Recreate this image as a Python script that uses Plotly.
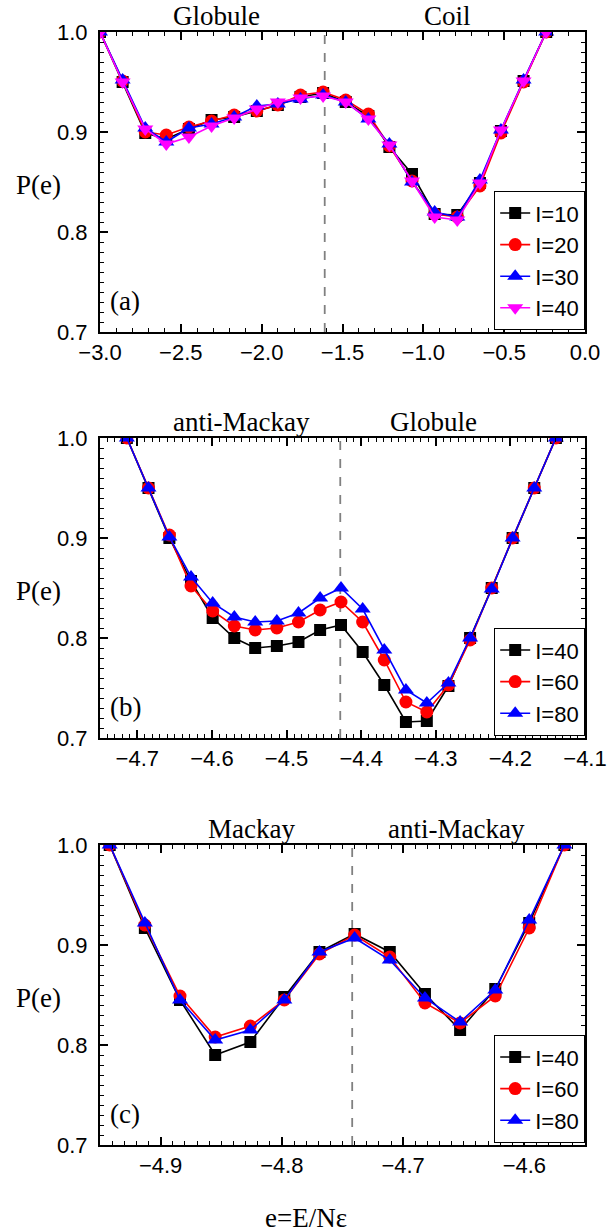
import plotly.graph_objects as go

# ---------------- data ----------------
x_a = [-3.00, -2.86, -2.72, -2.59, -2.45, -2.31, -2.17, -2.03, -1.90, -1.76, -1.62,
       -1.48, -1.34, -1.21, -1.07, -0.93, -0.79, -0.65, -0.52, -0.38, -0.24]
a_I10 = [1.000, 0.950, 0.899, 0.893, 0.903, 0.912, 0.915, 0.921, 0.927, 0.935, 0.939,
         0.930, 0.916, 0.885, 0.858, 0.818, 0.817, 0.849, 0.901, 0.951, 1.000]
a_I20 = [1.000, 0.951, 0.900, 0.897, 0.905, 0.911, 0.917, 0.921, 0.927, 0.937, 0.940,
         0.932, 0.918, 0.886, 0.851, 0.818, 0.815, 0.846, 0.899, 0.950, 1.000]
a_I30 = [1.000, 0.952, 0.904, 0.890, 0.904, 0.908, 0.915, 0.926, 0.928, 0.933, 0.937,
         0.930, 0.913, 0.888, 0.850, 0.820, 0.815, 0.852, 0.902, 0.952, 1.000]
a_I40 = [1.000, 0.950, 0.903, 0.888, 0.895, 0.906, 0.914, 0.923, 0.930, 0.934, 0.936,
         0.930, 0.913, 0.887, 0.851, 0.815, 0.812, 0.849, 0.902, 0.951, 1.000]

x_b = [-4.714, -4.685, -4.657, -4.628, -4.599, -4.570, -4.542, -4.513, -4.484, -4.455, -4.427,
       -4.398, -4.369, -4.340, -4.312, -4.283, -4.254, -4.225, -4.197, -4.168, -4.139]
b_I40 = [1.000, 0.950, 0.900, 0.857, 0.820, 0.800, 0.790, 0.792, 0.796, 0.808, 0.813,
         0.786, 0.753, 0.716, 0.717, 0.752, 0.800, 0.850, 0.900, 0.950, 1.000]
b_I60 = [1.000, 0.950, 0.903, 0.852, 0.827, 0.812, 0.808, 0.810, 0.816, 0.828, 0.836,
         0.816, 0.778, 0.736, 0.726, 0.753, 0.798, 0.850, 0.900, 0.950, 1.000]
b_I80 = [1.000, 0.950, 0.901, 0.861, 0.835, 0.821, 0.816, 0.817, 0.825, 0.840, 0.850,
         0.829, 0.788, 0.748, 0.735, 0.755, 0.800, 0.849, 0.900, 0.950, 1.000]

x_c = [-4.942, -4.913, -4.884, -4.855, -4.826, -4.798, -4.769, -4.740, -4.711, -4.682,
       -4.653, -4.624, -4.596, -4.567]
c_I40 = [1.000, 0.917, 0.845, 0.790, 0.803, 0.848, 0.893, 0.911, 0.893, 0.851, 0.815, 0.856, 0.922, 1.000]
c_I60 = [1.000, 0.920, 0.849, 0.808, 0.819, 0.845, 0.891, 0.910, 0.888, 0.842, 0.822, 0.849, 0.917, 1.000]
c_I80 = [1.000, 0.922, 0.845, 0.805, 0.815, 0.845, 0.893, 0.907, 0.885, 0.847, 0.823, 0.855, 0.925, 1.000]

labels_a = ["I=10", "I=20", "I=30", "I=40"]
labels_bc = ["I=40", "I=60", "I=80"]
phase_a = ["Globule", "Coil"]
phase_b = ["anti-Mackay", "Globule"]
phase_c = ["Mackay", "anti-Mackay"]
trans = [-1.61, -4.428, -4.742]

# ---------------- style ----------------
W, H = 608, 1232
SANS = "Liberation Sans, Arial, sans-serif"
SERIF = "Liberation Serif, Times New Roman, serif"
colors = ["#000000", "#ff0000", "#0000ff", "#ff00ff"]
symbols = ["square", "circle", "triangle-up", "triangle-down"]
sizes = [12, 13, 14, 14]

def px_x(p):
    return p / W

def px_y(p):
    return 1 - p / H

xdom = [px_x(100), px_x(585)]
panels = [
    dict(top=32, bot=332, xr=[-3.0, 0.0], dt=0.5, mdt=0.1, x=x_a,
         ys=[a_I10, a_I20, a_I30, a_I40], labels=labels_a, phases=phase_a, tag="(a)"),
    dict(top=438, bot=738, xr=[-4.75, -4.1], dt=0.1, mdt=0.01, x=x_b,
         ys=[b_I40, b_I60, b_I80], labels=labels_bc, phases=phase_b, tag="(b)"),
    dict(top=845, bot=1145, xr=[-4.95, -4.55], dt=0.1, mdt=0.01, x=x_c,
         ys=[c_I40, c_I60, c_I80], labels=labels_bc, phases=phase_c, tag="(c)"),
]
phase_x = [[216, 447], [241, 433], [251, 456]]

fig = go.Figure()
layout = dict(width=W, height=H, margin=dict(l=0, r=0, t=0, b=0, autoexpand=False),
              paper_bgcolor="white", plot_bgcolor="white", showlegend=True)
annotations = []
shapes = []

for i, p in enumerate(panels):
    n = "" if i == 0 else str(i + 1)
    xa, ya = "x" + n, "y" + n
    leg = "legend" + n
    for k, (yv, lab) in enumerate(zip(p["ys"], p["labels"])):
        fig.add_trace(go.Scatter(
            x=p["x"], y=yv, name=lab, mode="lines+markers", xaxis=xa, yaxis=ya,
            legend=leg,
            line=dict(color=colors[k], width=1.6),
            marker=dict(symbol=symbols[k], size=sizes[k], color=colors[k],
                        line=dict(width=0))))
    ydom = [px_y(p["bot"]), px_y(p["top"])]
    axis_common = dict(showline=True, linecolor="black", linewidth=2, mirror="ticks",
                       ticks="inside", ticklen=8, tickwidth=1.5, tickcolor="black",
                       showgrid=False, zeroline=False, automargin=False,
                       tickfont=dict(family=SANS, size=22, color="black"))
    layout["xaxis" + n] = dict(axis_common, domain=xdom, range=p["xr"], anchor=ya,
                               tick0=0, dtick=p["dt"], tickformat=".1f",
                               minor=dict(ticks="inside", ticklen=4, tickwidth=1.2,
                                          tickcolor="black", dtick=p["mdt"]))
    layout["yaxis" + n] = dict(axis_common, domain=ydom, range=[0.7, 1.0], anchor=xa,
                               tick0=0.7, dtick=0.1, tickformat=".1f", ticklabelstandoff=6,
                               minor=dict(ticks="inside", ticklen=4, tickwidth=1.2,
                                          tickcolor="black", dtick=0.01))
    layout[leg] = dict(x=px_x(585), xanchor="right", y=px_y(p["bot"] - 2), yanchor="bottom",
                       bgcolor="white", bordercolor="black", borderwidth=1.2,
                       font=dict(family=SANS, size=22, color="black"),
                       tracegroupgap=0)
    shapes.append(dict(type="line", xref=xa, yref=ya + " domain", x0=trans[i], x1=trans[i],
                       y0=0, y1=1, line=dict(color="#808080", width=1.8, dash="dash"),
                       layer="below"))
    for ph, cx in zip(p["phases"], phase_x[i]):
        annotations.append(dict(text=ph, xref="paper", yref="paper", x=px_x(cx),
                                y=px_y(p["top"] - 16), xanchor="center", yanchor="middle",
                                showarrow=False, font=dict(family=SERIF, size=27, color="black")))
    annotations.append(dict(text=p["tag"], xref="paper", yref="paper", x=px_x(108),
                            y=px_y(p["bot"] - 31), xanchor="left", yanchor="middle",
                            showarrow=False, font=dict(family=SERIF, size=27, color="black")))
    annotations.append(dict(text="P(e)", xref="paper", yref="paper", x=px_x(38),
                            y=px_y((p["top"] + p["bot"]) / 2 + 3), xanchor="center",
                            yanchor="middle", showarrow=False,
                            font=dict(family=SERIF, size=27, color="black")))

annotations.append(dict(text="e=E/Nε", xref="paper", yref="paper", x=px_x(306),
                        y=px_y(1218), xanchor="center", yanchor="middle", showarrow=False,
                        font=dict(family=SERIF, size=27, color="black")))

layout["annotations"] = annotations
layout["shapes"] = shapes
fig.update_layout(**layout)
fig.write_html("out.html")
